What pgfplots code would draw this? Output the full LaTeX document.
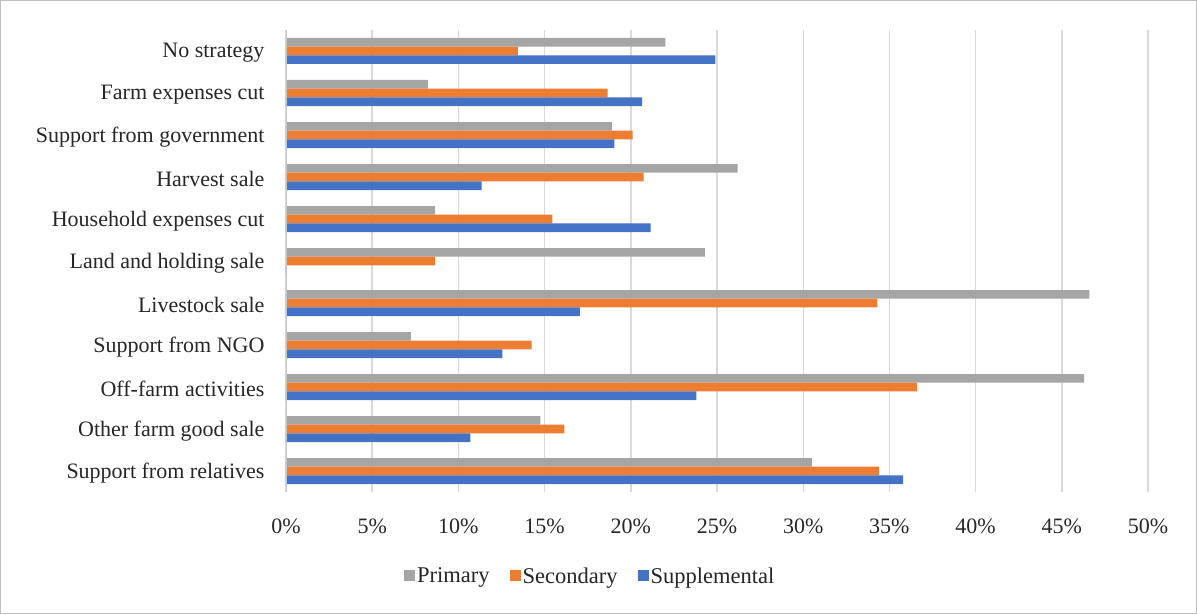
\documentclass[border=0pt]{standalone}
\usepackage{pgfplots}
\pgfplotsset{compat=1.18}
\usepackage{fontspec}
\setmainfont{Liberation Serif}
\definecolor{cPrim}{HTML}{A5A5A5}
\definecolor{cSec}{HTML}{ED7D31}
\definecolor{cSup}{HTML}{4472C4}
\definecolor{cGrid}{HTML}{D9D9D9}
\definecolor{cText}{HTML}{262626}
\begin{document}
\begin{tikzpicture}
\fontsize{22pt}{26pt}\selectfont
\begin{axis}[
  scale only axis,
  width=862pt, height=462pt,
  xbar, bar width=8.6pt,
  xmin=0, xmax=50,
  ymin=-0.5, ymax=10.5,
  xtick={0,5,...,50},
  xticklabel={\pgfmathprintnumber{\tick}\%},
  /pgf/number format/assume math mode=true,
  ytick={0,...,10},
  yticklabels={Support from relatives,Other farm good sale,Off-farm activities,Support from NGO,Livestock sale,Land and holding sale,Household expenses cut,Harvest sale,Support from government,Farm expenses cut,No strategy},
  tick label style={font=\fontsize{22pt}{26pt}\selectfont, text=cText},
  yticklabel style={xshift=-14pt, yshift=-2pt},
  xticklabel style={yshift=-19pt},
  major tick length=0pt,
  xmajorgrids, grid style={cGrid, line width=1.4pt},
  axis line style={draw=none},
  axis x line*=bottom, axis y line*=left,
  legend style={at={(0.353,-0.184)}, anchor=center, draw=none,
    legend columns=3, font=\fontsize{22.5pt}{26pt}\selectfont, text=cText,
    /tikz/every even column/.append style={column sep=18pt},
    /tikz/every odd column/.append style={column sep=0pt}},
  legend image code/.code={\fill (0pt,-4pt) rectangle (11pt,7pt);},
]
\addplot[fill=cPrim, draw=none, bar shift=8.7pt] coordinates {
  (30.5,0) (14.75,1) (46.3,2) (7.25,3) (46.6,4) (24.3,5) (8.65,6) (26.2,7) (18.9,8) (8.25,9) (22.0,10)};
\addplot[fill=cSec, draw=none, bar shift=0pt] coordinates {
  (34.4,0) (16.15,1) (36.6,2) (14.25,3) (34.3,4) (8.65,5) (15.45,6) (20.75,7) (20.1,8) (18.65,9) (13.45,10)};
\addplot[fill=cSup, draw=none, bar shift=-8.7pt] coordinates {
  (35.8,0) (10.7,1) (23.8,2) (12.55,3) (17.05,4) (0,5) (21.15,6) (11.35,7) (19.05,8) (20.65,9) (24.9,10)};
\legend{Primary,Secondary,Supplemental}
\draw[cGrid!80!gray, line width=1.4pt] (axis cs:0,-0.5) -- (axis cs:0,10.5);
\end{axis}
\draw[cGrid!70!gray, line width=1pt] (-285.5pt,-121.5pt) rectangle (910.5pt,491.5pt);
\end{tikzpicture}
\end{document}
